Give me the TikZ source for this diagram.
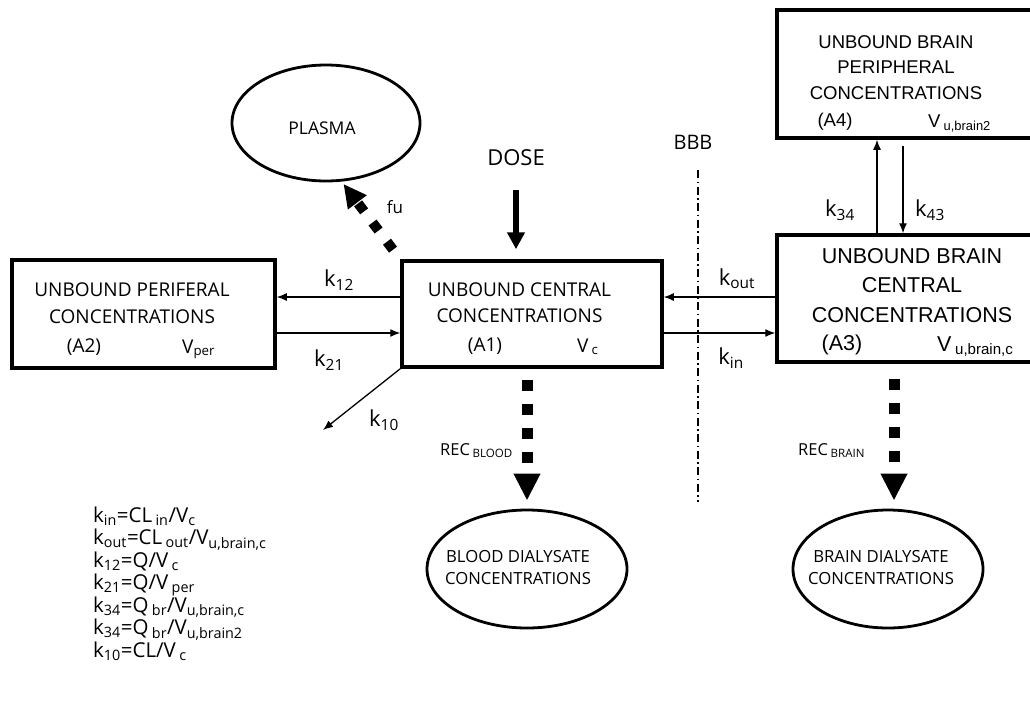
\documentclass[tikz,border=0pt]{standalone}
\usepackage{fontspec}
\setmainfont{Open Sans}
\newfontfamily\arialfont{Liberation Sans}
\usetikzlibrary{arrows.meta, shapes.geometric, positioning}
\newcommand{\fsz}[2]{\fontsize{#1}{#2}\selectfont}
\newcommand{\lsub}[1]{\textsubscript{#1}}

\begin{document}
\begin{tikzpicture}[x=1pt, y=-1pt,
	compartment/.style={draw, line width=3.5pt, inner sep=0pt},
	pool/.style={draw, ellipse, line width=2.8pt, inner sep=0pt},
	txt/.style={inner sep=0pt, align=center},
	rate/.style={inner sep=0pt, font=\fsz{22}{22}},
	formula/.style={anchor=base west, inner sep=0pt, font=\fsz{20.5}{20.5}},
	flow/.style={line width=1.3pt, -{Latex[length=10pt, width=8pt]}},
	doseflow/.style={line width=6pt, -{Triangle[length=17pt, width=17pt]}},
	recflow/.style={line width=11pt, dash pattern=on 11pt off 13pt, -{Triangle[length=27pt, width=25pt]}},
	fuflow/.style={line width=10pt, dash pattern=on 10pt off 14pt, -{Triangle[length=23pt, width=22pt]}},
	barrier/.style={line width=1.3pt, dash pattern=on 8pt off 3.5pt on 1.5pt off 3.5pt}]
	\useasboundingbox (0,0) rectangle (1030,713);

	% compartments
	\node [compartment, minimum width=263pt, minimum height=108pt] (A2) at (143.5,314) {};
	\node [compartment, minimum width=260pt, minimum height=106pt] (A1) at (532,314) {};
	\node [compartment, minimum width=259pt, minimum height=127pt] (A3) at (906.5,298.5) {};
	\node [compartment, minimum width=259pt, minimum height=128pt] (A4) at (906.5,74) {};

	\node [txt, anchor=north, font=\fsz{19}{27}] (A2txt) at (132,283) {UNBOUND PERIFERAL\\CONCENTRATIONS};
	\node [txt, anchor=base, font=\fsz{19}{19}] (A2id) at (84,352) {(A2)};
	\node [txt, anchor=base west, font=\fsz{19}{19}] (A2vol) at (182,353) {V\lsub{per}};

	\node [txt, anchor=north, font=\fsz{19}{26}] (A1txt) at (519.5,283) {UNBOUND CENTRAL\\CONCENTRATIONS};
	\node [txt, anchor=base, font=\fsz{19}{19}] (A1id) at (485,351) {(A1)};
	\node [txt, anchor=base west, font=\fsz{19}{19}] (A1vol) at (577,352) {V\,\lsub{c}};

	\node [txt, anchor=north, font=\arialfont\fsz{21.5}{29.5}] (A3txt) at (912,248) {UNBOUND BRAIN\\CENTRAL\\CONCENTRATIONS};
	\node [txt, anchor=base, font=\arialfont\fsz{21.5}{21.5}] (A3id) at (842,350) {(A3)};
	\node [txt, anchor=base west, font=\arialfont\fsz{21.5}{21.5}] (A3vol) at (937,351) {V\,\lsub{u,brain,c}};

	\node [txt, anchor=north, font=\arialfont\fsz{18.5}{25.5}] (A4txt) at (896,35) {UNBOUND BRAIN\\PERIPHERAL\\CONCENTRATIONS};
	\node [txt, anchor=base, font=\arialfont\fsz{18.5}{18.5}] (A4id) at (835,126) {(A4)};
	\node [txt, anchor=base west, font=\arialfont\fsz{18.5}{18.5}] (A4vol) at (928,127) {V\,\lsub{u,brain2}};

	% dialysate and plasma
	\node [pool, minimum width=188pt, minimum height=116pt] (plasma) at (326,123) {};
	\node [txt, font=\fsz{17.5}{17.5}] (plasmatxt) at (322,128) {PLASMA};
	\node [pool, minimum width=200pt, minimum height=118pt] (blood) at (527,569) {};
	\node [pool, minimum width=190pt, minimum height=118pt] (brainD) at (888,569) {};
	\node [txt, anchor=north, font=\fsz{16.7}{22}] (bloodtxt) at (518,550) {BLOOD DIALYSATE\\CONCENTRATIONS};
	\node [txt, anchor=north, font=\fsz{16.7}{22}] (braintxt) at (881,550) {BRAIN DIALYSATE\\CONCENTRATIONS};

	% transfers
	\draw [flow] ([yshift=17pt]A1.west) -- ([yshift=17pt]A2.east);
	\draw [flow] ([yshift=-19pt]A2.east) -- ([yshift=-19pt]A1.west);
	\coordinate (k10end) at (323,430);
	\draw [flow] (A1.south west) -- (k10end);
	\draw [flow] ([yshift=1.5pt]A3.west) -- ([yshift=17pt]A1.east);
	\draw [flow] ([yshift=-19pt]A1.east) -- ([yshift=-34.5pt]A3.west);
	\draw [flow] ([xshift=-29.5pt]A3.north) -- ([xshift=-29.5pt]A4.south);
	\draw [flow] ([xshift=-3.5pt, yshift=-6pt]A4.south) -- ([xshift=-3.5pt]A3.north);

	\node [rate] (k12) at (339,280) {k\lsub{12}};
	\node [rate] (k21) at (329,360) {k\lsub{21}};
	\node [rate] (k10) at (384,420) {k\lsub{10}};
	\node [rate] (kout) at (737,279) {k\lsub{out}};
	\node [rate] (kin) at (731,358) {k\lsub{in}};
	\node [rate] (k34) at (840,210) {k\lsub{34}};
	\node [rate] (k43) at (930,210) {k\lsub{43}};

	% dose, unbound fraction, recovery
	\node [inner sep=0pt, font=\fsz{22}{22}] (dose) at (516,158) {DOSE};
	\draw [doseflow, shorten <=32pt, shorten >=10pt] (dose.center) -- (dose.center |- A1.north);

	\draw [fuflow, shorten <=12pt, shorten >=3pt] (A1.north west) -- (plasma.-75);
	\node [rate, font=\fsz{17}{17}] (fu) at (395,207) {fu};

	\draw [recflow, shorten <=11pt, shorten >=8pt] (blood.north |- A1.south) -- (blood.north);
	\coordinate (recB) at ([xshift=6pt]brainD.north);
	\draw [recflow, shorten <=15pt, shorten >=8pt] (recB |- A3.south) -- (recB);
	\node [anchor=base west, inner sep=0pt, font=\fsz{16.5}{16.5}] (recblood) at (440,455) {REC\,\lsub{BLOOD}};
	\node [anchor=base west, inner sep=0pt, font=\fsz{16.5}{16.5}] (recbrain) at (798,455) {REC\,\lsub{BRAIN}};

	% blood-brain barrier
	\node [inner sep=0pt, font=\fsz{20}{20}] (bbb) at (693,142) {BBB};
	\coordinate (bbbTop) at (698,170);
	\coordinate (bbbBot) at (698,502);
	\draw [barrier] (bbbTop) -- (bbbBot);

	% rate constants
	\foreach \f [count=\i from 0] in {{k\lsub{in}=CL\,\lsub{in}/V\lsub{c}},
		{k\lsub{out}=CL\,\lsub{out}/V\lsub{u,brain,c}},
		{k\lsub{12}=Q/V\,\lsub{c}},
		{k\lsub{21}=Q/V\,\lsub{per}},
		{k\lsub{34}=Q\,\lsub{br}/V\lsub{u,brain,c}},
		{k\lsub{34}=Q\,\lsub{br}/V\lsub{u,brain2}},
		{k\lsub{10}=CL/V\,\lsub{c}}}{
		\node [formula] (eq\i) at (93,{522+22.5*\i}) {\f};
	}
\end{tikzpicture}
\end{document}
